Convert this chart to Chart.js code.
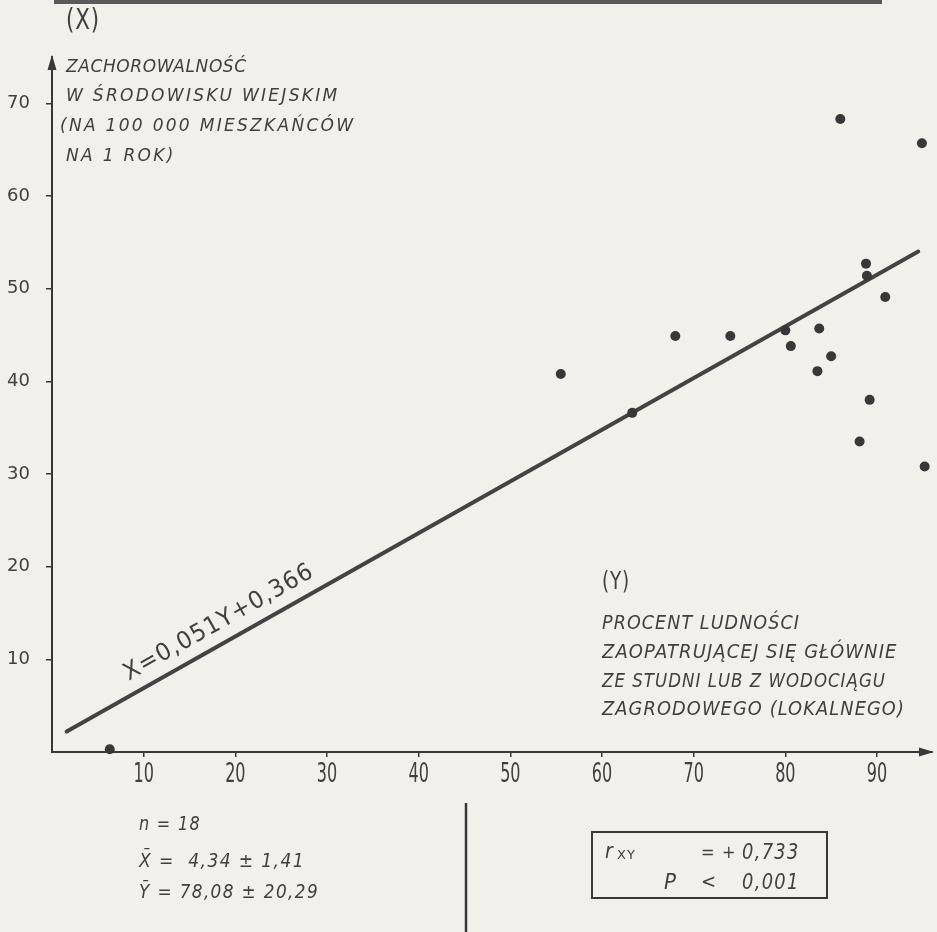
<!DOCTYPE html>
<html>
<head>
<meta charset="utf-8">
<script src="https://cdn.jsdelivr.net/npm/chart.js@4.4.1/dist/chart.umd.min.js"></script>
<style>
  html, body { margin: 0; padding: 0; background: #f1f0eb; }
  #wrap { width: 937px; height: 932px; }
</style>
</head>
<body>
<div id="wrap"><canvas id="corr" width="937" height="932"></canvas></div>
<script>
// procent ludności zaopatrującej się ze studni (Y) / zachorowalność (X)
var pctWells  = [86.0, 94.9, 88.8, 88.9, 90.9, 80.0, 83.7, 68.0, 74.0, 80.6, 85.0, 83.5, 55.5, 89.2, 63.3, 88.1, 95.2, 6.3];
var incidence = [68.3, 65.7, 52.7, 51.4, 49.1, 45.5, 45.7, 44.9, 44.9, 43.8, 42.7, 41.1, 40.8, 38.0, 36.6, 33.5, 30.8, 0.3];

// końce prostej regresji
var fitX = [1.6, 94.5];
var fitY = [2.2, 54.0];

var xTicks = [10, 20, 30, 40, 50, 60, 70, 80, 90];
var yTicks = [10, 20, 30, 40, 50, 60, 70];

var yTitle = ['ZACHOROWALNOŚĆ', 'W ŚRODOWISKU WIEJSKIM', '(NA 100 000 MIESZKAŃCÓW', 'NA 1 ROK)'];
var xTitle = ['PROCENT LUDNOŚCI', 'ZAOPATRUJĄCEJ SIĘ GŁÓWNIE', 'ZE STUDNI LUB Z WODOCIĄGU', 'ZAGRODOWEGO (LOKALNEGO)'];
var fitLabel = 'X=0,051Y+0,366';
var stats = ['n = 18', 'X\u0304 =  4,34 ± 1,41', 'Ȳ = 78,08 ± 20,29'];

var INK = '#383838';
var TXT = '#404040';
var PAPER = '#f1f0eb';
var SANS = "'DejaVu Sans', sans-serif";
var COND = "'DejaVu Sans Condensed', 'Liberation Sans Narrow', 'DejaVu Sans', sans-serif";

// napis z opcjonalnym zwężeniem (sx) i maksymalną szerokością
function put(ctx, s, x, y, font, spacing, sx, maxW) {
    ctx.save();
    ctx.font = font;
    ctx.letterSpacing = (spacing || 0) + 'px';
    ctx.translate(x, y);
    ctx.scale(sx || 1, 1);
    if (maxW) ctx.fillText(s, 0, 0, maxW / (sx || 1));
    else ctx.fillText(s, 0, 0);
    ctx.restore();
}

var paper = {
    id: 'paper',
    beforeDraw: function (chart) {
        var ctx = chart.ctx;
        ctx.save();
        ctx.fillStyle = PAPER;
        ctx.fillRect(0, 0, chart.width, chart.height);
        // kreska u góry strony
        ctx.fillStyle = '#5a5a5a';
        ctx.fillRect(54, 0, 828, 4);
        ctx.restore();
    },
    afterDraw: function (chart) {
        var ctx = chart.ctx;
        var a = chart.chartArea;
        var xs = chart.scales.x, ys = chart.scales.y;
        ctx.save();

        // strzałki osi
        ctx.fillStyle = INK;
        ctx.beginPath();
        ctx.moveTo(a.left, a.top - 2);
        ctx.lineTo(a.left - 4.5, a.top + 13);
        ctx.lineTo(a.left + 4.5, a.top + 13);
        ctx.closePath();
        ctx.fill();
        ctx.beginPath();
        ctx.moveTo(a.right + 2, a.bottom);
        ctx.lineTo(a.right - 13, a.bottom - 4.5);
        ctx.lineTo(a.right - 13, a.bottom + 4.5);
        ctx.closePath();
        ctx.fill();

        ctx.fillStyle = TXT;
        ctx.textBaseline = 'middle';

        // opisy osi X (wąskie, wysokie cyfry)
        ctx.textAlign = 'center';
        xs.ticks.forEach(function (t) {
            put(ctx, String(t.value), xs.getPixelForValue(t.value), a.bottom + 23, '27px ' + COND, 0, 0.66);
        });

        ctx.textAlign = 'left';
        put(ctx, '(X)', 66, 22, '28px ' + COND, 1, 0.85);
        var yRows = [68, 97, 127, 157];
        var ySpacing = [0.6, 2.3, 2.3, 2.3];
        yTitle.forEach(function (s, i) {
            put(ctx, s, i === 2 ? 60 : 66, yRows[i], 'italic 17px ' + SANS, ySpacing[i]);
        });

        put(ctx, '(Y)', 602, 583, '24px ' + COND, 1, 0.85);
        var xRows = [624, 653, 682, 710];
        var xWidths = [198, 300, 284, 303];
        xTitle.forEach(function (s, i) {
            put(ctx, s, 602, xRows[i], 'italic 20px ' + COND, 1.1, 1, xWidths[i]);
        });

        // opis prostej regresji, równolegle do niej
        var x0 = xs.getPixelForValue(fitX[0]), y0 = ys.getPixelForValue(fitY[0]);
        var x1 = xs.getPixelForValue(fitX[1]), y1 = ys.getPixelForValue(fitY[1]);
        var ang = Math.atan2(y1 - y0, x1 - x0);
        var t = (19.3 - fitX[0]) / (fitX[1] - fitX[0]);
        var px = x0 + t * (x1 - x0) + 20 * Math.sin(ang);
        var py = y0 + t * (y1 - y0) - 20 * Math.cos(ang);
        ctx.save();
        ctx.translate(px, py);
        ctx.rotate(ang);
        ctx.textAlign = 'center';
        put(ctx, fitLabel, 0, 0, '24px ' + SANS, 1.2, 0.95);
        ctx.restore();

        // statystyki pod wykresem
        var sRows = [825, 862, 893];
        stats.forEach(function (s, i) {
            put(ctx, s, 139, sRows[i], 'italic 19px ' + COND, 1.4, 1, i === 0 ? 62 : 180);
        });

        ctx.strokeStyle = INK;
        ctx.lineWidth = 2.5;
        ctx.beginPath();
        ctx.moveTo(466, 803);
        ctx.lineTo(466, 932);
        ctx.stroke();

        ctx.lineWidth = 2;
        ctx.strokeRect(592, 832, 235, 66);
        put(ctx, 'r', 605, 853, 'italic 21px ' + COND, 0);
        put(ctx, 'XY', 617, 856, '13px ' + SANS, 1);
        put(ctx, '=', 701, 853, '18px ' + COND, 0);
        put(ctx, '+', 722, 853, '18px ' + COND, 0);
        put(ctx, '0,733', 742, 853, 'italic 22px ' + COND, 1.5, 0.9, 68);
        put(ctx, 'P', 664, 883, 'italic 22px ' + COND, 0);
        put(ctx, '<', 701, 883, '20px ' + COND, 0);
        put(ctx, '0,001', 742, 883, 'italic 22px ' + COND, 1.5, 0.9, 64);

        ctx.restore();
    }
};

var chart = new Chart(document.getElementById('corr').getContext('2d'), {
    type: 'scatter',
    data: {
        datasets: [{
            label: 'obszary',
            data: pctWells.map(function (v, i) { return { x: v, y: incidence[i] }; }),
            backgroundColor: INK,
            borderWidth: 0,
            pointRadius: 5,
            pointHoverRadius: 5,
            clip: false,
            order: 0
        }, {
            label: 'regresja',
            data: fitX.map(function (v, i) { return { x: v, y: fitY[i] }; }),
            showLine: true,
            borderColor: '#434343',
            borderWidth: 4,
            borderCapStyle: 'round',
            pointRadius: 0,
            clip: false,
            order: 1
        }]
    },
    options: {
        responsive: false,
        animation: false,
        devicePixelRatio: 1,
        layout: { padding: { top: 57, right: 2, left: 0, bottom: 0 } },
        plugins: { legend: { display: false }, tooltip: { enabled: false } },
        scales: {
            x: {
                type: 'linear',
                min: 0,
                max: 96,
                afterFit: function (s) { s.height = 180; },
                afterBuildTicks: function (s) { s.ticks = xTicks.map(function (v) { return { value: v }; }); },
                border: { display: true, color: INK, width: 2 },
                grid: { drawOnChartArea: false, tickLength: 5, color: INK, lineWidth: 1.5 },
                ticks: { display: false }
            },
            y: {
                type: 'linear',
                min: 0,
                max: 75,
                afterFit: function (s) { s.width = 52; },
                afterBuildTicks: function (s) { s.ticks = yTicks.map(function (v) { return { value: v }; }); },
                border: { display: true, color: INK, width: 2 },
                grid: { drawOnChartArea: false, tickLength: 6, color: INK, lineWidth: 1.5 },
                ticks: { color: TXT, padding: 16, autoSkip: false, font: { family: SANS, size: 18 } }
            }
        }
    },
    plugins: [paper]
});
</script>
</body>
</html>
